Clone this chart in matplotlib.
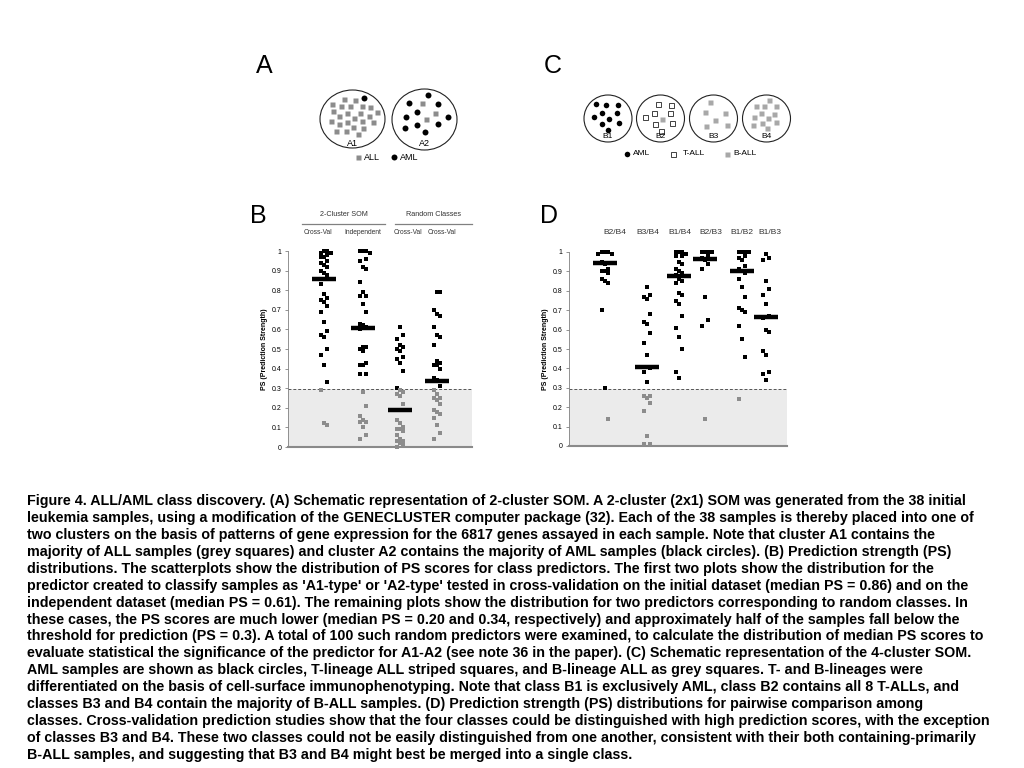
import numpy as np
import matplotlib
matplotlib.use("Agg")
import matplotlib.pyplot as plt
from matplotlib.patches import Ellipse

plt.rcParams['font.family'] = ['Liberation Sans', 'DejaVu Sans']

# Panel A: 2-cluster SOM membership (grey squares = ALL, black dots = AML)
a_clusters = ["A1", "A2"]
a_all_counts = [24, 3]
a_aml_counts = [1, 10]

# Panel C: 4-cluster SOM membership
c_clusters = ["B1", "B2", "B3", "B4"]
c_aml_counts = [10, 0, 0, 1]
c_tall_counts = [0, 8, 0, 0]
c_ball_counts = [0, 1, 6, 12]

# Panel B: prediction strength, 2-cluster SOM vs random classes
b_headers = ["2-Cluster SOM", "Random Classes"]
b_labels = ["Cross-Val", "Independent", "Cross-Val", "Cross-Val"]
b_medians = [0.855, 0.605, 0.19, 0.335]
b_som_cv = [1.0, 1.0, 0.99, 0.99, 0.98, 0.97, 0.97, 0.95, 0.94, 0.93, 0.92,
            0.90, 0.89, 0.88, 0.83, 0.78, 0.76, 0.75, 0.74, 0.72, 0.69, 0.64,
            0.59, 0.57, 0.56, 0.50, 0.47, 0.42, 0.33, 0.29, 0.12, 0.11]
b_som_indep = [1.0, 1.0, 1.0, 0.99, 0.96, 0.95, 0.92, 0.91, 0.84, 0.79, 0.77,
               0.77, 0.73, 0.69, 0.63, 0.62, 0.61, 0.60, 0.51, 0.51, 0.50, 0.49,
               0.43, 0.42, 0.42, 0.37, 0.37, 0.28, 0.21, 0.16, 0.14, 0.13,
               0.13, 0.10, 0.06, 0.04]
b_rand_cv1 = [0.61, 0.57, 0.55, 0.52, 0.51, 0.50, 0.49, 0.46, 0.45, 0.43, 0.39,
              0.30, 0.29, 0.28, 0.27, 0.26, 0.22, 0.14, 0.12, 0.10, 0.09, 0.09,
              0.08, 0.06, 0.04, 0.03, 0.03, 0.02, 0.01, 0.0]
b_rand_cv2 = [0.79, 0.79, 0.70, 0.68, 0.67, 0.61, 0.57, 0.56, 0.52, 0.44, 0.43,
              0.42, 0.42, 0.40, 0.35, 0.34, 0.31, 0.29, 0.27, 0.25, 0.25, 0.24,
              0.22, 0.19, 0.18, 0.17, 0.15, 0.11, 0.07, 0.04]

# Panel D: pairwise comparisons among the 4 classes
d_labels = ["B2/B4", "B3/B4", "B1/B4", "B2/B3", "B1/B2", "B1/B3"]
d_medians = [0.945, 0.405, 0.875, 0.965, 0.90, 0.665]
d_b2b4 = [1.0, 1.0, 1.0, 0.99, 0.99, 0.95, 0.94, 0.91, 0.90, 0.90, 0.89,
          0.86, 0.85, 0.84, 0.70, 0.30, 0.14]
d_b3b4 = [0.82, 0.78, 0.77, 0.76, 0.68, 0.64, 0.63, 0.58, 0.53, 0.47, 0.40,
          0.38, 0.33, 0.26, 0.26, 0.25, 0.22, 0.18, 0.05, 0.01, 0.01]
d_b1b4 = [1.0, 1.0, 1.0, 0.99, 0.98, 0.98, 0.95, 0.94, 0.91, 0.90, 0.89,
          0.88, 0.86, 0.85, 0.84, 0.79, 0.78, 0.75, 0.73, 0.67, 0.61, 0.56,
          0.50, 0.38, 0.35]
d_b2b3 = [1.0, 1.0, 1.0, 1.0, 0.98, 0.97, 0.96, 0.94, 0.91, 0.77, 0.65, 0.62,
          0.14]
d_b1b2 = [1.0, 1.0, 1.0, 1.0, 0.98, 0.97, 0.96, 0.93, 0.91, 0.90, 0.89, 0.86,
          0.82, 0.77, 0.71, 0.70, 0.69, 0.62, 0.55, 0.46, 0.24]
d_b1b3 = [0.99, 0.97, 0.96, 0.85, 0.81, 0.78, 0.73, 0.67, 0.66, 0.60, 0.59,
          0.49, 0.47, 0.38, 0.37, 0.34]

threshold = 0.295

caption = [
    "Figure 4. ALL/AML class discovery. (A) Schematic representation of 2-cluster SOM. A 2-cluster (2x1) SOM was generated from the 38 initial",
    "leukemia samples, using a modification of the GENECLUSTER computer package (32). Each of the 38 samples is thereby placed into one of",
    "two clusters on the basis of patterns of gene expression for the 6817 genes assayed in each sample. Note that cluster A1 contains the",
    "majority of ALL samples (grey squares) and cluster A2 contains the majority of AML samples (black circles). (B) Prediction strength (PS)",
    "distributions. The scatterplots show the distribution of PS scores for class predictors. The first two plots show the distribution for the",
    "predictor created to classify samples as 'A1-type' or 'A2-type' tested in cross-validation on the initial dataset (median PS = 0.86) and on the",
    "independent dataset (median PS = 0.61). The remaining plots show the distribution for two predictors corresponding to random classes. In",
    "these cases, the PS scores are much lower (median PS = 0.20 and 0.34, respectively) and approximately half of the samples fall below the",
    "threshold for prediction (PS = 0.3). A total of 100 such random predictors were examined, to calculate the distribution of median PS scores to",
    "evaluate statistical the significance of the predictor for A1-A2 (see note 36 in the paper). (C) Schematic representation of the 4-cluster SOM.",
    "AML samples are shown as black circles, T-lineage ALL striped squares, and B-lineage ALL as grey squares. T- and B-lineages were",
    "differentiated on the basis of cell-surface immunophenotyping. Note that class B1 is exclusively AML, class B2 contains all 8 T-ALLs, and",
    "classes B3 and B4 contain the majority of B-ALL samples. (D) Prediction strength (PS) distributions for pairwise comparison among",
    "classes. Cross-validation prediction studies show that the four classes could be distinguished with high prediction scores, with the exception",
    "of classes B3 and B4. These two classes could not be easily distinguished from one another, consistent with their both containing-primarily",
    "B-ALL samples, and suggesting that B3 and B4 might best be merged into a single class.",
]

BLACK = "#000000"
GREY = "#8c8c8c"


def swarm(values, step, dy):
    # simple deterministic beeswarm so points with close values don't overlap
    placed = []
    offsets = []
    for i, v in enumerate(values):
        k = i % 3
        while True:
            off = ((k + 1) // 2) * step * (1 if k % 2 else -1)
            if all(abs(v - pv) > dy or abs(off - po) > step * 0.9 for po, pv in placed):
                break
            k += 1
        placed.append((off, v))
        offsets.append(off)
    return np.array(offsets)


def sunflower(n, cx, cy, rx, ry):
    i = np.arange(n) + 0.5
    r = np.sqrt(i / n)
    t = i * np.pi * (3 - np.sqrt(5))
    return cx + rx * r * np.cos(t), cy + ry * r * np.sin(t)


def style_ps_axes(ax, xlim):
    ax.set_xlim(*xlim)
    ax.set_ylim(0, 1)
    ax.axhspan(0, threshold, color="#ebebeb", lw=0, zorder=0)
    ax.axhline(threshold, color="#555555", lw=0.7, ls=(0, (3, 2)), zorder=1)
    ticks = np.round(np.arange(0, 1.01, 0.1), 1)
    ax.set_yticks(ticks)
    ax.set_yticklabels(["0" if t == 0 else "1" if t == 1 else f"{t:.1f}" for t in ticks])
    ax.tick_params(axis="y", length=2.5, width=0.6, color="#808080", labelsize=5, pad=2)
    ax.set_xticks([])
    ax.spines["top"].set_visible(False)
    ax.spines["right"].set_visible(False)
    ax.spines["left"].set_color("#808080")
    ax.spines["left"].set_linewidth(0.6)
    ax.spines["bottom"].set_color("#8a8a8a")
    ax.spines["bottom"].set_linewidth(1.5)
    ax.set_ylabel("PS (Prediction Strength)", fontsize=5, fontweight="bold", labelpad=3)
    ax.patch.set_visible(False)


def strip(ax, columns, medians, xs, half):
    for vals, med, x0 in zip(columns, medians, xs):
        vals = np.array(vals)
        off = swarm(vals, 3.3, 0.014)
        low = vals < threshold
        ax.scatter(x0 + off[~low], vals[~low], marker="s", s=5, color=BLACK, lw=0, zorder=3, clip_on=False)
        ax.scatter(x0 + off[low], vals[low], marker="s", s=5, color=GREY, lw=0, zorder=3, clip_on=False)
        ax.plot([x0 - half, x0 + half], [med, med], color=BLACK, lw=3.2, solid_capstyle="butt", zorder=4)


fig = plt.figure(figsize=(10.24, 7.68), dpi=100)

# overlay in pixel coordinates for the schematics, headers and caption
ov = fig.add_axes([0, 0, 1, 1])
ov.set_xlim(0, 1024)
ov.set_ylim(768, 0)
ov.axis("off")

for letter, x, y in [("A", 264, 66), ("C", 553, 66), ("B", 258, 216), ("D", 549, 216)]:
    ov.text(x, y, letter, fontsize=18, ha="center", va="center")

# --- panel A schematic
a_centres = [(352.5, 119), (424.5, 119.5)]
a_sizes = [(65, 58), (65, 61)]
for name, (cx, cy), (w, h), n_all, n_aml in zip(a_clusters, a_centres, a_sizes, a_all_counts, a_aml_counts):
    ov.add_patch(Ellipse((cx, cy), w, h, fill=False, ec="#222222", lw=0.8))
    n = n_all + n_aml
    xs, ys = sunflower(n, cx, cy - 4, 26, 21)
    is_aml = np.zeros(n, bool)
    if n_aml < n_all:
        is_aml[np.argsort(ys)[:n_aml]] = True
    else:
        is_aml[:] = True
        is_aml[[0, 2, 4][:n_all]] = False
    ov.plot(xs[~is_aml], ys[~is_aml], "s", ms=3.6, color=GREY, mec="none")
    ov.plot(xs[is_aml], ys[is_aml], "o", ms=4.3, color=BLACK, mec="none")
    ov.text(cx, cy + 24, name, fontsize=6.5, ha="center", va="center")

ov.plot([358], [157], "s", ms=3.6, color=GREY, mec="none")
ov.text(364, 157, "ALL", fontsize=6.5, va="center")
ov.plot([394], [157], "o", ms=4.3, color=BLACK, mec="none")
ov.text(400, 157, "AML", fontsize=6.5, va="center")

# --- panel C schematic
c_xs = [608, 660.5, 713.5, 766.5]
c_y = 118.5
for name, cx, n_aml, n_t, n_b in zip(c_clusters, c_xs, c_aml_counts, c_tall_counts, c_ball_counts):
    ov.add_patch(Ellipse((cx, c_y), 48, 47, fill=False, ec="#222222", lw=0.8))
    n = n_aml + n_t + n_b
    xs, ys = sunflower(n, cx, c_y - 3, 18, 16)
    kinds = np.array(["aml"] * n_aml + ["t"] * n_t + ["b"] * n_b)
    if n_t and n_b:
        kinds = np.roll(kinds, 1)
    if n_b and n_aml and n_b > n_aml:
        kinds = np.array(["b"] * n)
        kinds[np.argmax(xs)] = "aml"
    ov.plot(xs[kinds == "aml"], ys[kinds == "aml"], "o", ms=4.0, color=BLACK, mec="none")
    ov.plot(xs[kinds == "t"], ys[kinds == "t"], "s", ms=3.6, mfc="white", mec="#222222", mew=0.6)
    ov.plot(xs[kinds == "b"], ys[kinds == "b"], "s", ms=3.6, color="#a8a8a8", mec="none")
    ov.text(cx, c_y + 18.5, name, fontsize=6, ha="center", va="center")

ov.plot([627], [153.5], "o", ms=4, color=BLACK, mec="none")
ov.text(633, 153.5, "AML", fontsize=6, va="center")
ov.plot([673], [153.5], "s", ms=3.6, mfc="white", mec="#222222", mew=0.6)
ov.text(683, 153.5, "T-ALL", fontsize=6, va="center")
ov.plot([727], [153.5], "s", ms=3.6, color="#a8a8a8", mec="none")
ov.text(733, 153.5, "B-ALL", fontsize=6, va="center")

# --- panel B headers
for text, (x0, x1) in zip(b_headers, [(302, 385), (395, 472)]):
    ov.text((x0 + x1) / 2, 215, text, fontsize=5.2, ha="center", va="center", color="#333333")
    ov.plot([x0, x1], [223.5, 223.5], color="#808080", lw=0.9)
for text, x in zip(b_labels, [318, 363, 408, 442]):
    ov.text(x, 233, text, fontsize=4.8, ha="center", va="center", color="#333333")

# --- panel D headers
for text, x in zip(d_labels, [615, 648, 680, 711, 742, 770]):
    ov.text(x, 232, text, fontsize=6, ha="center", va="center", color="#333333")

# --- panel B strip chart
axb = fig.add_axes([288 / 1024, 1 - 447 / 768, 184 / 1024, 196 / 768])
style_ps_axes(axb, (288, 472))
strip(axb, [b_som_cv, b_som_indep, b_rand_cv1, b_rand_cv2], b_medians, [324, 363, 400, 437], 12)

# --- panel D strip chart
axd = fig.add_axes([569 / 1024, 1 - 446 / 768, 218 / 1024, 194 / 768])
style_ps_axes(axd, (569, 787))
strip(axd, [d_b2b4, d_b3b4, d_b1b4, d_b2b3, d_b1b2, d_b1b3], d_medians,
      [605, 647, 679, 705, 742, 766], 12)

# --- caption
for i, line in enumerate(caption):
    ov.text(27, 501 + i * 16.93, line, fontsize=10.3, fontweight="bold", va="center", ha="left")

fig.savefig("out.png", dpi=100)
